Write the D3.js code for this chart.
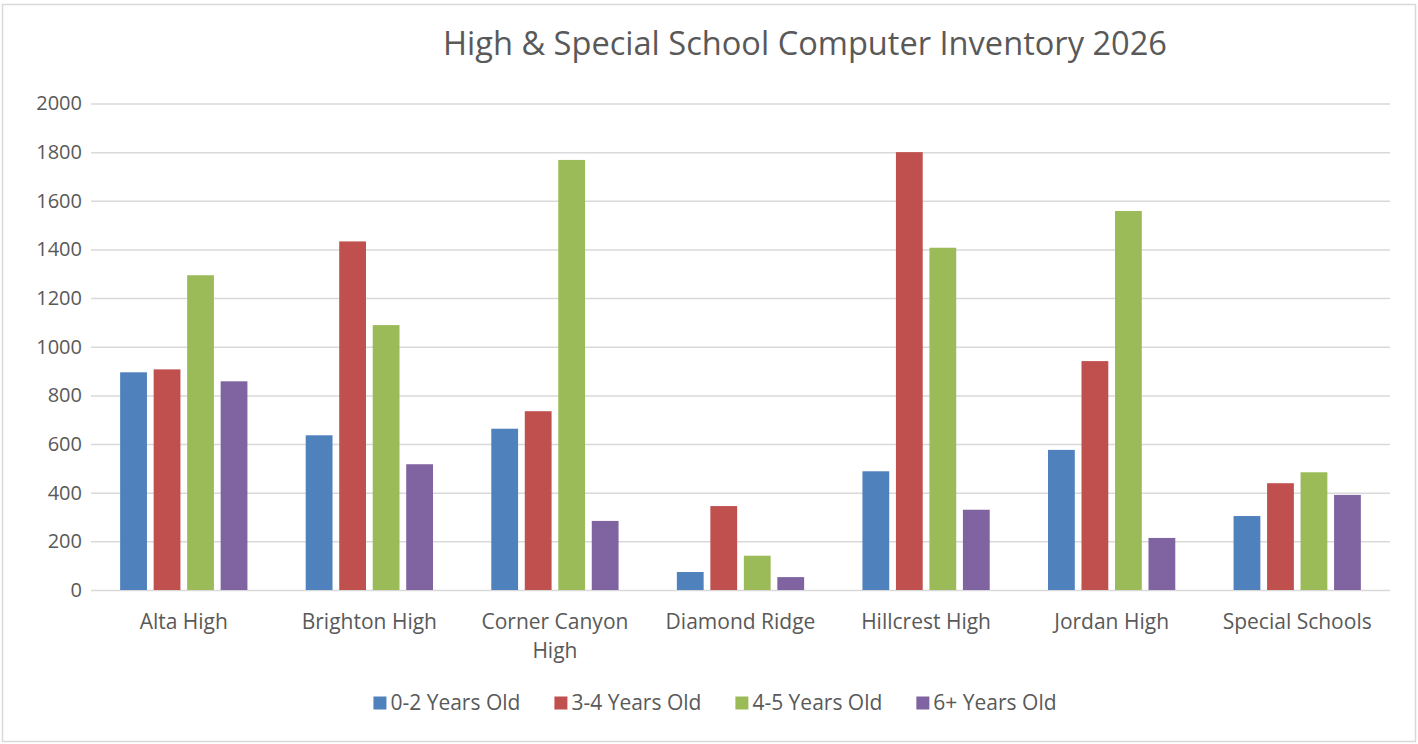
<!DOCTYPE html>
<html>
<head>
<meta charset="utf-8">
<script src="https://cdn.jsdelivr.net/npm/d3@7"></script>
<style>
  body { margin: 0; background: #fff; }
  text { font-family: "Open Sans", sans-serif; fill: #595959; }
</style>
</head>
<body>
<script>
// data
var schools = ["Alta High", "Brighton High", "Corner Canyon High", "Diamond Ridge",
               "Hillcrest High", "Jordan High", "Special Schools"];
var seriesNames = ["0-2 Years Old", "3-4 Years Old", "4-5 Years Old", "6+ Years Old"];
var seriesColors = ["#4f81bd", "#c0504d", "#9bbb59", "#8064a2"];
var age02 = [895, 636, 663, 74, 488, 576, 304];
var age34 = [907, 1433, 735, 345, 1800, 941, 439];
var age45 = [1294, 1089, 1768, 141, 1407, 1558, 484];
var age6p = [858, 517, 284, 53, 330, 214, 391];
var yTicks = [0, 200, 400, 600, 800, 1000, 1200, 1400, 1600, 1800, 2000];
var title = "High & Special School Computer Inventory 2026";

var allSeries = [age02, age34, age45, age6p];

var W = 1418, H = 744;
// plot area (names avoid window.top)
var plotL = 91, plotR = 1390, plotT = 103.5, plotB = 590;

var svg = d3.select("body").append("svg")
    .attr("width", W)
    .attr("height", H);

// outer chart border
svg.append("rect")
    .attr("x", 2.5).attr("y", 4.5)
    .attr("width", 1413).attr("height", 737)
    .attr("fill", "#fff")
    .attr("stroke", "#d9d9d9")
    .attr("stroke-width", 1.5);

var x0 = d3.scaleBand()
    .domain(schools)
    .range([plotL, plotR])
    .paddingInner(0.278)
    .paddingOuter(0.139);

var x1 = d3.scaleBand()
    .domain(d3.range(seriesNames.length))
    .range([0, x0.bandwidth()])
    .paddingInner(0.2)
    .paddingOuter(0.1);

var y = d3.scaleLinear()
    .domain([0, 2000])
    .range([plotB, plotT]);

// gridlines + y labels
var yAxis = d3.axisLeft(y)
    .tickValues(yTicks)
    .tickSize(-(plotR - plotL))
    .tickPadding(9)
    .tickFormat(d3.format("d"));

var gy = svg.append("g")
    .attr("transform", "translate(" + plotL + ",0)")
    .call(yAxis);
gy.select(".domain").remove();
gy.selectAll(".tick line")
    .attr("stroke", "#d9d9d9")
    .attr("stroke-width", 1.5);
gy.selectAll(".tick text")
    .style("font-family", "'Open Sans', sans-serif")
    .style("font-size", "20px")
    .attr("fill", "#595959");

// bars
var groups = svg.append("g").selectAll("g")
    .data(schools)
    .enter()
    .append("g")
    .attr("transform", function(d) { return "translate(" + x0(d) + ",0)"; });

groups.selectAll("rect")
    .data(function(d, i) {
        return allSeries.map(function(s, k) { return {k: k, v: s[i]}; });
    })
    .enter()
    .append("rect")
    .attr("x", function(d) { return x1(d.k); })
    .attr("y", function(d) { return y(d.v); })
    .attr("width", x1.bandwidth())
    .attr("height", function(d) { return plotB - y(d.v); })
    .attr("fill", function(d) { return seriesColors[d.k]; });

// category labels, wrapped like Excel when too wide
var xLab = svg.append("g");
schools.forEach(function(name) {
    var cx = x0(name) + x0.bandwidth() / 2;
    var t = xLab.append("text")
        .attr("x", cx)
        .attr("y", 629)
        .attr("text-anchor", "middle")
        .style("font-size", "21px")
        .text(name);
    if (t.node().getComputedTextLength() > 180) {
        var words = name.split(" ");
        var last = words.pop();
        t.text(words.join(" "));
        xLab.append("text")
            .attr("x", cx)
            .attr("y", 658)
            .attr("text-anchor", "middle")
            .style("font-size", "21px")
            .text(last);
    }
});

// title, sized to the reference width
var tt = svg.append("text")
    .attr("x", 805)
    .attr("y", 55)
    .attr("text-anchor", "middle")
    .style("font-size", "30px")
    .text(title);
var tw = tt.node().getComputedTextLength();
tt.style("font-size", (30 * 724 / tw) + "px");

// legend
var legend = svg.append("g");
var lx = 0;
seriesNames.forEach(function(n, k) {
    var g = legend.append("g");
    g.append("rect")
        .attr("x", 0).attr("y", 696.5)
        .attr("width", 13).attr("height", 13)
        .attr("fill", seriesColors[k]);
    var t = g.append("text")
        .attr("x", 17).attr("y", 710)
        .style("font-size", "21px")
        .text(n);
    var w = 17 + t.node().getComputedTextLength();
    g.attr("transform", "translate(" + lx + ",0)");
    lx += w + 34;
});
var legW = lx - 34;
legend.attr("transform", "translate(" + (715 - legW / 2) + ",0)");
</script>
</body>
</html>
